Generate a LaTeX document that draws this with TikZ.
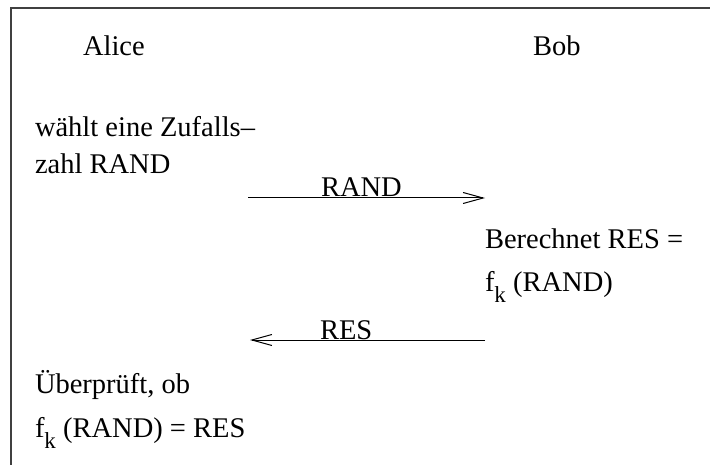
\documentclass[tikz,border=0pt]{standalone}
\usepackage{fontspec}
\setmainfont{Liberation Serif}
\usetikzlibrary{arrows.meta}
\tikzset{
  txt/.style={anchor=base west, inner sep=0pt, outer sep=0pt, font=\fontsize{28.5}{32}\selectfont},
  frame/.style={draw=black!75, line width=1.4pt},
  msg/.style={line width=1pt, -{Straight Barb[length=20pt,width=11pt,line width=1pt]}}
}
\newcommand{\fk}{f\raisebox{-11pt}{\fontsize{23}{24}\selectfont k}}
\begin{document}
\begin{tikzpicture}[x=1pt,y=-1pt]
\useasboundingbox (0,0) rectangle (710,465);
\draw[frame] (710,8) -- (11,8) -- (11,465);
\node[txt] (alice) at (83,56) {Alice};
\node[txt] (bob) at (533,56) {Bob};
\node[txt] (a1) at (35,137) {wählt eine Zufalls–};
\node[txt] (a2) at (35,174) {zahl RAND};
\coordinate (r1) at (248,198);
\coordinate (r2) at (485,198);
\draw[msg] (r1) -- (r2);
\node[txt] (rand) at (321,197) {RAND};
\node[txt] (b1) at (485,249) {Berechnet RES =};
\node[txt] (b2) at (485,292) {\fk{} (RAND)};
\coordinate (s1) at (485,340);
\coordinate (s2) at (250,340);
\draw[msg] (s1) -- (s2);
\node[txt] (res) at (320,339) {RES};
\node[txt] (a3) at (35,393) {Überprüft, ob};
\node[txt] (a4) at (35,437) {\fk{} (RAND) = RES};
\end{tikzpicture}
\end{document}
